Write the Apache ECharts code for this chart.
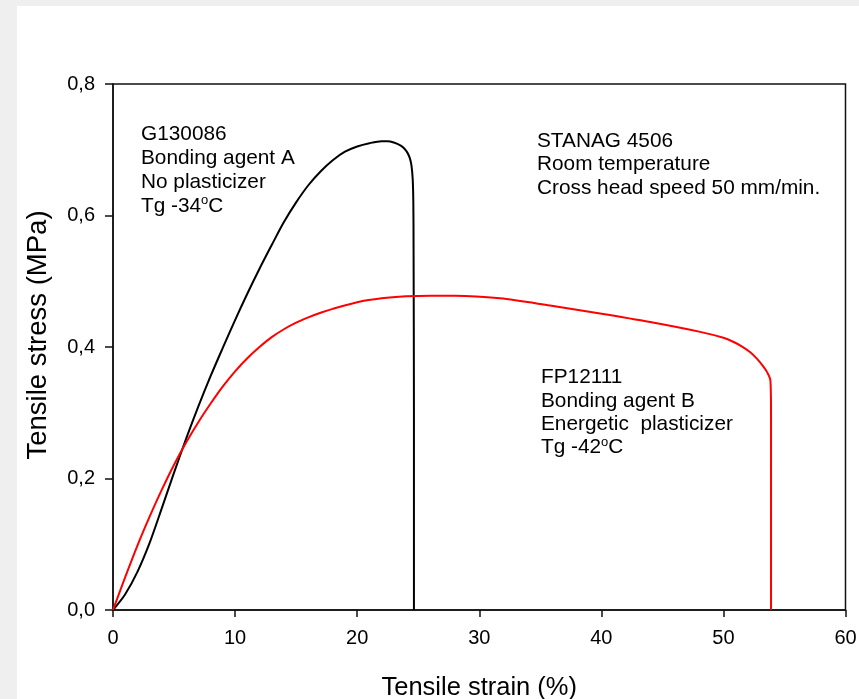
<!DOCTYPE html>
<html>
<head>
<meta charset="utf-8">
<script src="https://cdn.jsdelivr.net/npm/echarts@6/dist/echarts.min.js"></script>
<style>
html,body{margin:0;padding:0;background:#efefef;}
#c{width:859px;height:699px;}
</style>
</head>
<body>
<div id="c"></div>
<script>
// G130086 (black)
var blackStrain = [0, 1, 2, 3, 4, 5, 6, 7, 8, 9, 10, 11, 12, 13, 14, 15, 16, 17, 18, 19, 20, 21, 22, 22.5, 23, 23.5, 23.8, 24.1, 24.3, 24.45, 24.55, 24.6, 24.62, 24.65, 24.65];
var blackStress = [0, 0.024, 0.058, 0.102, 0.155, 0.209, 0.261, 0.310, 0.356, 0.399, 0.441, 0.481, 0.519, 0.555, 0.590, 0.620, 0.646, 0.667, 0.684, 0.697, 0.705, 0.710, 0.713, 0.713, 0.711, 0.707, 0.703, 0.696, 0.688, 0.676, 0.655, 0.620, 0.550, 0.300, 0];
// FP12111 (red)
var redStrain = [0, 1, 2, 3, 4, 5, 6, 7, 8, 9, 10, 11, 12, 13, 14, 15, 16, 17, 18, 20, 22, 24, 26, 28, 31.7, 35.8, 39.9, 44.0, 48.1, 50.0, 50.8, 51.5, 52.2, 52.7, 53.2, 53.6, 53.85, 53.9, 53.9];
var redStress = [0, 0.050, 0.098, 0.142, 0.183, 0.221, 0.255, 0.286, 0.314, 0.340, 0.363, 0.383, 0.400, 0.415, 0.427, 0.437, 0.445, 0.452, 0.458, 0.468, 0.474, 0.477, 0.478, 0.478, 0.474, 0.463, 0.451, 0.438, 0.423, 0.414, 0.408, 0.401, 0.392, 0.383, 0.372, 0.361, 0.349, 0.300, 0];
var xTicks = [0, 10, 20, 30, 40, 50, 60];
var yTicks = ['0,0', '0,2', '0,4', '0,6', '0,8'];

function pairs(xs, ys) { return xs.map(function (x, i) { return [x, ys[i]]; }); }

var FONT = '"Liberation Sans", Arial, sans-serif';
var chart = echarts.init(document.getElementById('c'), null, {renderer: 'canvas'});
var richS = {fontSize: 13, lineHeight: 13, verticalAlign: 'top', fontFamily: FONT, color: '#000'};
chart.setOption({
  animation: false,
  backgroundColor: '#efefef',
  grid: {left: 113, right: 13.5, top: 84, bottom: 89, containLabel: false, outerBoundsMode: 'none',
         show: true, backgroundColor: '#fff', borderColor: '#111', borderWidth: 1.5},
  xAxis: {
    type: 'value', min: 0, max: 60, interval: 10,
    name: 'Tensile strain (%)', nameLocation: 'middle', nameGap: 65,
    nameTextStyle: {fontSize: 25.5, fontFamily: FONT, color: '#000'},
    axisLine: {show: true, onZero: false, lineStyle: {color: '#111', width: 1.5}},
    axisTick: {show: true, inside: false, length: 7, lineStyle: {color: '#111', width: 1.5}},
    axisLabel: {fontSize: 20, fontFamily: FONT, color: '#000', margin: 18,
      formatter: function (v) { return xTicks.indexOf(v) >= 0 ? String(v) : ''; }},
    splitLine: {show: false}
  },
  yAxis: {
    type: 'value', min: 0, max: 0.8, interval: 0.2,
    name: 'Tensile stress (MPa)', nameLocation: 'middle', nameGap: 61, nameRotate: 90,
    nameTextStyle: {fontSize: 27.5, fontFamily: FONT, color: '#000', padding: [0, 0, 0, 24]},
    axisLine: {show: true, onZero: false, lineStyle: {color: '#111', width: 1.5}},
    axisTick: {show: true, inside: false, length: 8, lineStyle: {color: '#111', width: 1.5}},
    axisLabel: {fontSize: 20, fontFamily: FONT, color: '#000', margin: 18,
      formatter: function (v) { return yTicks[Math.round(v / 0.2)]; }},
    splitLine: {show: false}
  },
  graphic: [
    {type: 'rect', left: 17, top: 6, shape: {width: 842, height: 693}, style: {fill: '#fff'}, z: -10, silent: true},
    {type: 'text', left: 141, top: 124, z: 100, style: {
      text: '{a|G130086}\n{a|Bonding agent A}\n{a|No plasticizer}\n{a|Tg -34}{s|o}{a|C}',
      rich: {a: {fontSize: 20.8, lineHeight: 23.8, fontFamily: FONT, color: '#000'}, s: richS}}},
    {type: 'text', left: 537, top: 131, z: 100, style: {
      text: '{a|STANAG 4506}\n{a|Room temperature}\n{a|Cross head speed 50 mm/min.}',
      rich: {a: {fontSize: 20.8, lineHeight: 23.2, fontFamily: FONT, color: '#000'}}}},
    {type: 'text', left: 541, top: 367, z: 100, style: {
      text: '{a|FP12111}\n{a|Bonding agent B}\n{a|Energetic  plasticizer}\n{a|Tg -42}{s|o}{a|C}',
      rich: {a: {fontSize: 20.8, lineHeight: 23.4, fontFamily: FONT, color: '#000'}, s: richS}}}
  ],
  series: [
    {type: 'line', data: pairs(blackStrain, blackStress), showSymbol: false, smooth: 0.3,
     lineStyle: {color: '#000', width: 2}, z: 3},
    {type: 'line', data: pairs(redStrain, redStress), showSymbol: false, smooth: 0.3,
     lineStyle: {color: '#ff0000', width: 2}, z: 4}
  ]
});
</script>
</body>
</html>
